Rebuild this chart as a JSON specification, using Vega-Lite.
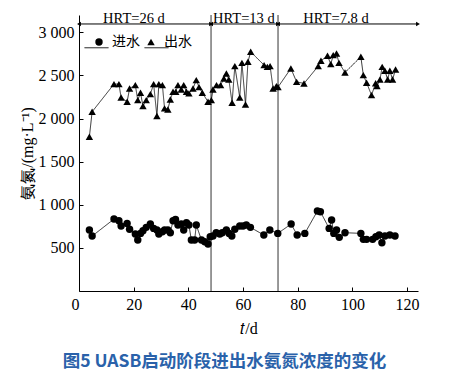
{
  "$schema": "https://vega.github.io/schema/vega-lite/v6.json",
  "width": 339,
  "height": 276,
  "autosize": {"type": "none"},
  "padding": {"left": 79, "top": 15, "right": 37, "bottom": 81},
  "background": "white",
  "config": {
    "view": {"stroke": null},
    "font": "Liberation Serif",
    "axis": {
      "grid": false,
      "domainColor": "#000",
      "domainWidth": 1,
      "tickColor": "#000",
      "tickSize": -4,
      "labelColor": "#000",
      "titleColor": "#000",
      "labelFont": "Liberation Serif",
      "titleFont": "Liberation Serif",
      "labelFontSize": 16,
      "titleFontSize": 16,
      "titleFontWeight": "normal"
    }
  },
  "title": {
    "text": "图5  UASB启动阶段进出水氨氮浓度的变化",
    "orient": "bottom",
    "anchor": "middle",
    "frame": "group",
    "dx": -24,
    "offset": 17,
    "font": "Noto Sans CJK SC",
    "fontSize": 17.5,
    "fontWeight": "bold",
    "color": "#2a62aa"
  },
  "layer": [
    {
      "data": {"values": [{"t": 48.3}, {"t": 72.8}]},
      "mark": {"type": "rule", "color": "#333", "strokeWidth": 1},
      "encoding": {
        "x": {"field": "t", "type": "quantitative", "scale": {"domain": [0, 124], "nice": false}}
      }
    },
    {
      "data": {"values": [{"a": 0, "b": 48.3}, {"a": 48.3, "b": 72.8}, {"a": 72.8, "b": 124}]},
      "mark": {"type": "rule", "color": "#000", "strokeWidth": 1},
      "encoding": {
        "x": {"field": "a", "type": "quantitative"},
        "x2": {"field": "b"},
        "y": {"datum": 3096}
      }
    },
    {
      "data": {"values": [{"a": 0}, {"a": 48.3}, {"a": 72.8}]},
      "mark": {"type": "point", "shape": "triangle-left", "filled": true, "color": "#000", "size": 20, "dx": 3, "opacity": 1},
      "encoding": {
        "x": {"field": "a", "type": "quantitative"},
        "y": {"datum": 3096}
      }
    },
    {
      "data": {"values": [{"b": 48.3}, {"b": 72.8}, {"b": 124}]},
      "mark": {"type": "point", "shape": "triangle-right", "filled": true, "color": "#000", "size": 20, "dx": -3, "opacity": 1},
      "encoding": {
        "x": {"field": "b", "type": "quantitative"},
        "y": {"datum": 3096}
      }
    },
    {
      "data": {"values": [{"label": "HRT=26 d", "c": 20.1}, {"label": "HRT=13 d", "c": 60.3}, {"label": "HRT=7.8 d", "c": 94}]},
      "mark": {"type": "text", "font": "Liberation Serif", "fontSize": 14.5, "color": "#000", "baseline": "alphabetic", "dy": 0},
      "encoding": {
        "x": {"field": "c", "type": "quantitative"},
        "y": {"datum": 3110},
        "text": {"field": "label"}
      }
    },
    {
      "data": {"name": "series"},
      "mark": {"type": "line", "color": "#000", "strokeWidth": 0.8},
      "encoding": {
        "x": {"field": "t", "type": "quantitative"},
        "y": {"field": "v", "type": "quantitative"},
        "strokeDash": {
          "field": "s", "type": "nominal",
          "sort": ["进水", "出水"],
          "scale": {"range": [[1, 0], [1, 0]]},
          "legend": {
            "orient": "none",
            "legendX": 5,
            "legendY": 20,
            "direction": "horizontal",
            "title": null,
            "symbolType": "stroke",
            "symbolSize": 576,
            "symbolStrokeColor": "#000",
            "symbolStrokeWidth": 1,
            "symbolDash": [1, 0],
            "labelExpr": "''",
            "labelFont": "Noto Sans CJK SC",
            "labelFontSize": 14,
            "labelOffset": 0,
            "columnPadding": 31
          }
        }
      }
    },
    {
      "data": {"name": "series"},
      "mark": {"type": "point", "filled": true, "color": "#000", "size": 55, "opacity": 1},
      "encoding": {
        "x": {
          "field": "t", "type": "quantitative",
          "scale": {"domain": [0, 124], "nice": false},
          "axis": {
            "values": [0, 20, 40, 60, 80, 100, 120],
            "labelFont": "Liberation Serif",
            "titleFont": "Liberation Serif",
            "labelFontSize": 16,
            "titleFontSize": 16,
            "labelPadding": 9,
            "labelAlign": {"condition": {"test": "datum.value == 0", "value": "right"}, "value": "center"},
            "title": "𝑡/d",
            "titlePadding": 8
          }
        },
        "y": {
          "field": "v", "type": "quantitative",
          "scale": {"domain": [0, 3200], "nice": false},
          "axis": {
            "values": [500, 1000, 1500, 2000, 2500, 3000],
            "labelFont": "Liberation Serif",
            "titleFont": "Liberation Serif",
            "labelFontSize": 16,
            "titleFontSize": 16,
            "labelExpr": "replace(format(datum.value, ','), ',', ' ')",
            "labelPadding": 9,
            "title": "氨氮/(mg·L⁻¹)",
            "titlePadding": 3
          }
        },
        "shape": {
          "field": "s", "type": "nominal",
          "scale": {"domain": ["进水", "出水"], "range": ["circle", "triangle-up"]},
          "legend": {
            "orient": "none",
            "legendX": 13,
            "legendY": 20,
            "direction": "horizontal",
            "title": null,
            "symbolSize": 55,
            "symbolFillColor": "#000",
            "symbolStrokeWidth": 0,
            "labelFont": "Noto Sans CJK SC",
            "labelFontSize": 14,
            "labelColor": "#000",
            "labelOffset": 6,
            "columnPadding": 4
          }
        }
      }
    }
  ],
  "datasets": {
    "series": [
      {"s": "进水", "t": 3.8, "v": 707},
      {"s": "进水", "t": 4.8, "v": 637},
      {"s": "进水", "t": 12.8, "v": 834},
      {"s": "进水", "t": 14.6, "v": 815},
      {"s": "进水", "t": 15.4, "v": 753},
      {"s": "进水", "t": 17.6, "v": 784},
      {"s": "进水", "t": 18.5, "v": 715},
      {"s": "进水", "t": 20.6, "v": 660},
      {"s": "进水", "t": 21.5, "v": 591},
      {"s": "进水", "t": 22.5, "v": 668},
      {"s": "进水", "t": 23.4, "v": 699},
      {"s": "进水", "t": 24.6, "v": 738},
      {"s": "进水", "t": 26.1, "v": 776},
      {"s": "进水", "t": 27.3, "v": 726},
      {"s": "进水", "t": 28.5, "v": 707},
      {"s": "进水", "t": 29.2, "v": 660},
      {"s": "进水", "t": 30.5, "v": 687},
      {"s": "进水", "t": 31.3, "v": 707},
      {"s": "进水", "t": 32.5, "v": 707},
      {"s": "进水", "t": 33.4, "v": 676},
      {"s": "进水", "t": 34.4, "v": 815},
      {"s": "进水", "t": 35.3, "v": 830},
      {"s": "进水", "t": 36.2, "v": 765},
      {"s": "进水", "t": 37.4, "v": 776},
      {"s": "进水", "t": 38.3, "v": 707},
      {"s": "进水", "t": 39.3, "v": 792},
      {"s": "进水", "t": 40.2, "v": 765},
      {"s": "进水", "t": 41.1, "v": 591},
      {"s": "进水", "t": 42.3, "v": 591},
      {"s": "进水", "t": 42.9, "v": 765},
      {"s": "进水", "t": 44.8, "v": 591},
      {"s": "进水", "t": 46.0, "v": 571},
      {"s": "进水", "t": 47.2, "v": 545},
      {"s": "进水", "t": 48.0, "v": 629},
      {"s": "进水", "t": 49.0, "v": 637},
      {"s": "进水", "t": 50.2, "v": 676},
      {"s": "进水", "t": 51.5, "v": 660},
      {"s": "进水", "t": 52.4, "v": 676},
      {"s": "进水", "t": 53.9, "v": 707},
      {"s": "进水", "t": 54.9, "v": 668},
      {"s": "进水", "t": 55.9, "v": 637},
      {"s": "进水", "t": 57.0, "v": 715},
      {"s": "进水", "t": 58.8, "v": 753},
      {"s": "进水", "t": 60.0, "v": 753},
      {"s": "进水", "t": 61.2, "v": 765},
      {"s": "进水", "t": 62.7, "v": 738},
      {"s": "进水", "t": 67.6, "v": 649},
      {"s": "进水", "t": 69.8, "v": 707},
      {"s": "进水", "t": 72.7, "v": 668},
      {"s": "进水", "t": 77.6, "v": 776},
      {"s": "进水", "t": 79.8, "v": 649},
      {"s": "进水", "t": 82.6, "v": 668},
      {"s": "进水", "t": 87.2, "v": 927},
      {"s": "进水", "t": 88.3, "v": 919},
      {"s": "进水", "t": 91.5, "v": 726},
      {"s": "进水", "t": 92.4, "v": 823},
      {"s": "进水", "t": 93.2, "v": 668},
      {"s": "进水", "t": 94.2, "v": 707},
      {"s": "进水", "t": 95.2, "v": 622},
      {"s": "进水", "t": 97.3, "v": 676},
      {"s": "进水", "t": 103.1, "v": 668},
      {"s": "进水", "t": 104.0, "v": 599},
      {"s": "进水", "t": 105.2, "v": 599},
      {"s": "进水", "t": 107.4, "v": 599},
      {"s": "进水", "t": 108.6, "v": 629},
      {"s": "进水", "t": 109.8, "v": 649},
      {"s": "进水", "t": 110.8, "v": 560},
      {"s": "进水", "t": 111.9, "v": 637},
      {"s": "进水", "t": 113.7, "v": 649},
      {"s": "进水", "t": 115.6, "v": 637},
      {"s": "出水", "t": 3.8, "v": 1788},
      {"s": "出水", "t": 4.8, "v": 2078},
      {"s": "出水", "t": 12.8, "v": 2399},
      {"s": "出水", "t": 14.6, "v": 2399},
      {"s": "出水", "t": 15.4, "v": 2244},
      {"s": "出水", "t": 17.6, "v": 2194},
      {"s": "出水", "t": 18.5, "v": 2348},
      {"s": "出水", "t": 20.6, "v": 2387},
      {"s": "出水", "t": 21.5, "v": 2213},
      {"s": "出水", "t": 22.5, "v": 2298},
      {"s": "出水", "t": 23.4, "v": 2144},
      {"s": "出水", "t": 24.6, "v": 2213},
      {"s": "出水", "t": 26.1, "v": 2283},
      {"s": "出水", "t": 27.3, "v": 2399},
      {"s": "出水", "t": 28.5, "v": 2028},
      {"s": "出水", "t": 29.2, "v": 2399},
      {"s": "出水", "t": 30.5, "v": 2387},
      {"s": "出水", "t": 31.3, "v": 2117},
      {"s": "出水", "t": 32.5, "v": 2105},
      {"s": "出水", "t": 33.4, "v": 2221},
      {"s": "出水", "t": 34.4, "v": 2310},
      {"s": "出水", "t": 35.4, "v": 2310},
      {"s": "出水", "t": 36.2, "v": 2387},
      {"s": "出水", "t": 37.4, "v": 2337},
      {"s": "出水", "t": 38.3, "v": 2387},
      {"s": "出水", "t": 39.3, "v": 2310},
      {"s": "出水", "t": 40.2, "v": 2291},
      {"s": "出水", "t": 41.7, "v": 2348},
      {"s": "出水", "t": 42.9, "v": 2445},
      {"s": "出水", "t": 43.9, "v": 2364},
      {"s": "出水", "t": 45.1, "v": 2298},
      {"s": "出水", "t": 47.2, "v": 2194},
      {"s": "出水", "t": 48.4, "v": 2213},
      {"s": "出水", "t": 49.0, "v": 2337},
      {"s": "出水", "t": 50.3, "v": 2387},
      {"s": "出水", "t": 51.8, "v": 2387},
      {"s": "出水", "t": 53.0, "v": 2464},
      {"s": "出水", "t": 53.9, "v": 2522},
      {"s": "出水", "t": 54.8, "v": 2453},
      {"s": "出水", "t": 56.0, "v": 2182},
      {"s": "出水", "t": 57.0, "v": 2607},
      {"s": "出水", "t": 58.8, "v": 2244},
      {"s": "出水", "t": 59.6, "v": 2645},
      {"s": "出水", "t": 60.9, "v": 2163},
      {"s": "出水", "t": 61.8, "v": 2657},
      {"s": "出水", "t": 62.8, "v": 2773},
      {"s": "出水", "t": 67.7, "v": 2619},
      {"s": "出水", "t": 68.9, "v": 2599},
      {"s": "出水", "t": 69.9, "v": 2607},
      {"s": "出水", "t": 71.0, "v": 2348},
      {"s": "出水", "t": 72.2, "v": 2375},
      {"s": "出水", "t": 72.8, "v": 2364},
      {"s": "出水", "t": 77.5, "v": 2580},
      {"s": "出水", "t": 79.6, "v": 2425},
      {"s": "出水", "t": 82.3, "v": 2406},
      {"s": "出水", "t": 87.5, "v": 2607},
      {"s": "出水", "t": 88.5, "v": 2669},
      {"s": "出水", "t": 90.9, "v": 2727},
      {"s": "出水", "t": 92.1, "v": 2630},
      {"s": "出水", "t": 93.0, "v": 2735},
      {"s": "出水", "t": 94.2, "v": 2754},
      {"s": "出水", "t": 95.1, "v": 2645},
      {"s": "出水", "t": 97.3, "v": 2534},
      {"s": "出水", "t": 103.1, "v": 2715},
      {"s": "出水", "t": 104.0, "v": 2503},
      {"s": "出水", "t": 105.2, "v": 2414},
      {"s": "出水", "t": 107.0, "v": 2271},
      {"s": "出水", "t": 108.5, "v": 2408},
      {"s": "出水", "t": 109.0, "v": 2375},
      {"s": "出水", "t": 110.1, "v": 2453},
      {"s": "出水", "t": 110.9, "v": 2599},
      {"s": "出水", "t": 111.9, "v": 2553},
      {"s": "出水", "t": 112.9, "v": 2453},
      {"s": "出水", "t": 113.7, "v": 2553},
      {"s": "出水", "t": 114.7, "v": 2453},
      {"s": "出水", "t": 115.8, "v": 2569}
    ]
  }
}
